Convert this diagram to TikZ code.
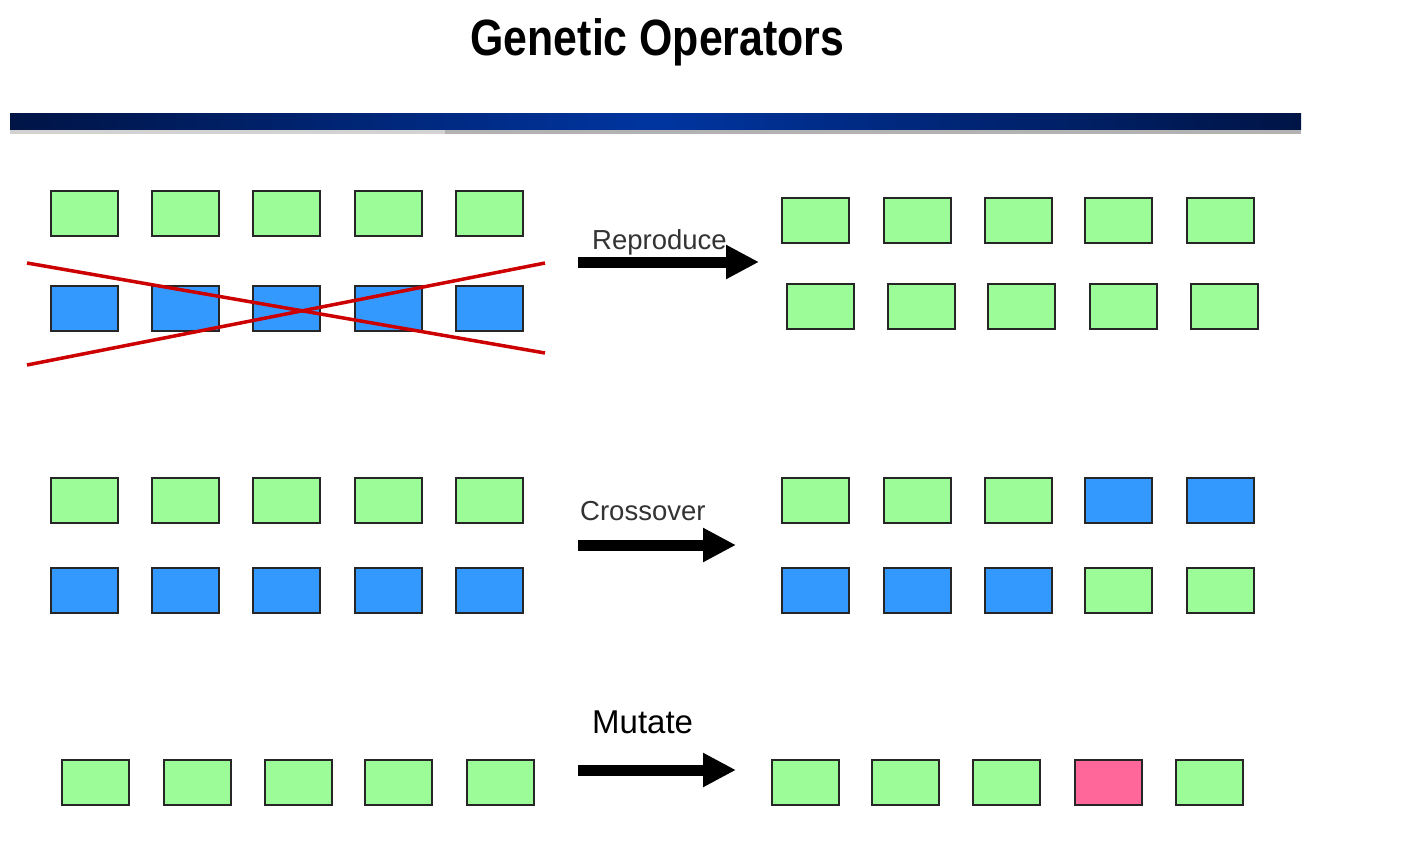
\documentclass[tikz,border=0pt]{standalone}
\usepackage{fontspec}
\setmainfont{Liberation Sans}
\usetikzlibrary{arrows.meta}
\definecolor{gfill}{HTML}{9CFC98}
\definecolor{bfill}{HTML}{3399FF}
\definecolor{pfill}{HTML}{FF6699}
\definecolor{boxline}{HTML}{262626}
\definecolor{navy}{HTML}{001446}
\definecolor{midblue}{HTML}{0035A0}
\definecolor{xred}{HTML}{CC0000}
\begin{document}
\begin{tikzpicture}[x=1pt,y=-1pt,
  gene/.style={draw=boxline, line width=1.8pt, minimum width=67pt, minimum height=45pt, inner sep=0pt, anchor=north west},
  g/.style={gene, fill=gfill},
  b/.style={gene, fill=bfill},
  p/.style={gene, fill=pfill},
  oparrow/.style={line width=11pt, -{Triangle[length=33pt,width=32pt]}},
  oplabel/.style={font=\fontsize{27.5}{30}\selectfont, text=black!80, anchor=base west, inner sep=0pt},
  cross/.style={xred, line width=3.5pt}]
\useasboundingbox (0,0) rectangle (1410,852);
\fill[white] (0,0) rectangle (1410,852);
% title
\node[font=\fontsize{51}{56}\selectfont\bfseries, anchor=base, inner sep=0pt] (title) at (657.5,55) {\scalebox{0.84}[1]{Genetic Operators}};
% bar
\shade[left color=navy, right color=navy, middle color=midblue] (10,113) rectangle (1301,129);
\fill[gray!60] (10,130) rectangle (1301,134);
\fill[gray!35] (10,130) rectangle (445,134);
% reproduce
\foreach \x [count=\i] in {50,151,252,354,455} \node[g] (ra\i) at (\x,190) {};
\foreach \x [count=\i] in {50,151,252,354,455} \node[b] (rb\i) at (\x,285) {};
\coordinate (x1s) at (27,263); \coordinate (x1e) at (545,353);
\coordinate (x2s) at (27,365); \coordinate (x2e) at (545,263);
\draw[cross] (x1s) -- (x1e);
\draw[cross] (x2s) -- (x2e);
\coordinate (repS) at (578,262); \coordinate (repE) at (759,262);
\draw[oparrow] (repS) -- (repE);
\node[oplabel] (repL) at (592,249) {Reproduce};
\foreach \x [count=\i] in {781,883,984,1084,1186} \node[g] (rc\i) at (\x,197) {};
\foreach \x [count=\i] in {786,887,987,1089,1190} \node[g] (rd\i) at (\x,283) {};
% crossover
\foreach \x [count=\i] in {50,151,252,354,455} \node[g] (ca\i) at (\x,477) {};
\foreach \x [count=\i] in {50,151,252,354,455} \node[b] (cb\i) at (\x,567) {};
\coordinate (croS) at (578,545); \coordinate (croE) at (736,545);
\draw[oparrow] (croS) -- (croE);
\node[oplabel] (croL) at (580,520) {Crossover};
\foreach \x/\s [count=\i] in {781/g,883/g,984/g,1084/b,1186/b} \node[\s] (cc\i) at (\x,477) {};
\foreach \x/\s [count=\i] in {781/b,883/b,984/b,1084/g,1186/g} \node[\s] (cd\i) at (\x,567) {};
% mutate
\foreach \x [count=\i] in {61,163,264,364,466} \node[g] (ma\i) at (\x,759) {};
\coordinate (mutS) at (578,770); \coordinate (mutE) at (736,770);
\draw[oparrow] (mutS) -- (mutE);
\node[oplabel, text=black, font=\fontsize{33}{36}\selectfont] (mutL) at (592,733) {Mutate};
\foreach \x/\s [count=\i] in {771/g,871/g,972/g,1074/p,1175/g} \node[\s] (mb\i) at (\x,759) {};
\end{tikzpicture}
\end{document}
